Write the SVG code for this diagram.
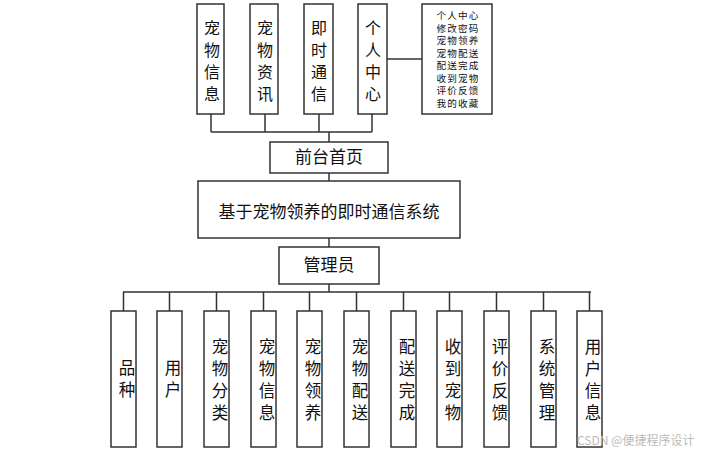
<svg xmlns="http://www.w3.org/2000/svg" width="716" height="454" viewBox="0 0 716 454">
<style>
.b{fill:#fff;stroke:#333;stroke-width:1.5}
.l{fill:none;stroke:#333;stroke-width:1.5}
.t{font-family:"Noto Sans CJK SC",sans-serif;font-size:17px;fill:#111;text-anchor:middle}
.u{font-size:16px}
.c{font-size:16.5px}
.s{font-family:"Noto Sans CJK SC",sans-serif;font-size:9.6px;letter-spacing:1.2px;fill:#111;text-anchor:middle}
.w{font-family:"Noto Sans CJK SC",sans-serif;font-size:12px;fill:#bbb}
</style>
<rect width="716" height="454" fill="#fff"/>
<g id="connectors">
<path class="l" d="M211 114V132M265 114V132M319 114V132M372 114V132M211 132H372M329 132V142M387 59H422M329 173V181M329 238V247M329 284V292M123 292H591"/>
<path class="l" d="M123.5 292V311M169.5 292V311M216.5 292V311M263.5 292V311M309.5 292V311M356.5 292V311M403.5 292V311M449.5 292V311M496.5 292V311M543.5 292V311M589.5 292V311"/>
</g>
<g id="n1"><rect class="b" x="197" y="4" width="27" height="110"/><text class="t u"><tspan x="212" y="33.5">宠</tspan><tspan x="212" y="55.5">物</tspan><tspan x="212" y="77.5">信</tspan><tspan x="212" y="99.5">息</tspan></text></g>
<g id="n2"><rect class="b" x="250" y="4" width="28" height="110"/><text class="t u"><tspan x="265" y="33.5">宠</tspan><tspan x="265" y="55.5">物</tspan><tspan x="265" y="77.5">资</tspan><tspan x="265" y="99.5">讯</tspan></text></g>
<g id="n3"><rect class="b" x="304" y="4" width="29" height="110"/><text class="t u"><tspan x="319" y="33.5">即</tspan><tspan x="319" y="55.5">时</tspan><tspan x="319" y="77.5">通</tspan><tspan x="319" y="99.5">信</tspan></text></g>
<g id="n4"><rect class="b" x="358" y="4" width="29" height="110"/><text class="t u"><tspan x="373" y="33.5">个</tspan><tspan x="373" y="55.5">人</tspan><tspan x="373" y="77.5">中</tspan><tspan x="373" y="99.5">心</tspan></text></g>
<g id="n5"><rect class="b" x="422" y="4" width="70" height="110"/><text class="s"><tspan x="458" y="19">个人中心</tspan><tspan x="458" y="31.5">修改密码</tspan><tspan x="458" y="44">宠物领养</tspan><tspan x="458" y="56.5">宠物配送</tspan><tspan x="458" y="69">配送完成</tspan><tspan x="458" y="81.5">收到宠物</tspan><tspan x="458" y="94">评价反馈</tspan><tspan x="458" y="106.5">我的收藏</tspan></text></g>
<g id="front"><rect class="b" x="270" y="142" width="118" height="31"/><text class="t" x="329" y="163">前台首页</text></g>
<g id="system"><rect class="b" x="198" y="181" width="262" height="57"/><text class="t" x="329" y="218">基于宠物领养的即时通信系统</text></g>
<g id="admin"><rect class="b" x="279" y="247" width="100" height="37"/><text class="t" x="329" y="271">管理员</text></g>
<g id="m1"><rect class="b" x="111" y="311" width="25" height="136"/><text class="t c"><tspan x="127" y="374">品</tspan><tspan x="127" y="396">种</tspan></text></g>
<g id="m2"><rect class="b" x="157" y="311" width="25" height="136"/><text class="t c"><tspan x="173" y="374">用</tspan><tspan x="173" y="396">户</tspan></text></g>
<g id="m3"><rect class="b" x="204" y="311" width="25" height="136"/><text class="t c"><tspan x="220" y="353">宠</tspan><tspan x="220" y="375">物</tspan><tspan x="220" y="397">分</tspan><tspan x="220" y="419">类</tspan></text></g>
<g id="m4"><rect class="b" x="251" y="311" width="25" height="136"/><text class="t c"><tspan x="267" y="353">宠</tspan><tspan x="267" y="375">物</tspan><tspan x="267" y="397">信</tspan><tspan x="267" y="419">息</tspan></text></g>
<g id="m5"><rect class="b" x="297" y="311" width="25" height="136"/><text class="t c"><tspan x="313" y="353">宠</tspan><tspan x="313" y="375">物</tspan><tspan x="313" y="397">领</tspan><tspan x="313" y="419">养</tspan></text></g>
<g id="m6"><rect class="b" x="344" y="311" width="25" height="136"/><text class="t c"><tspan x="360" y="353">宠</tspan><tspan x="360" y="375">物</tspan><tspan x="360" y="397">配</tspan><tspan x="360" y="419">送</tspan></text></g>
<g id="m7"><rect class="b" x="391" y="311" width="25" height="136"/><text class="t c"><tspan x="407" y="353">配</tspan><tspan x="407" y="375">送</tspan><tspan x="407" y="397">完</tspan><tspan x="407" y="419">成</tspan></text></g>
<g id="m8"><rect class="b" x="437" y="311" width="25" height="136"/><text class="t c"><tspan x="453" y="353">收</tspan><tspan x="453" y="375">到</tspan><tspan x="453" y="397">宠</tspan><tspan x="453" y="419">物</tspan></text></g>
<g id="m9"><rect class="b" x="484" y="311" width="25" height="136"/><text class="t c"><tspan x="500" y="353">评</tspan><tspan x="500" y="375">价</tspan><tspan x="500" y="397">反</tspan><tspan x="500" y="419">馈</tspan></text></g>
<g id="m10"><rect class="b" x="531" y="311" width="25" height="136"/><text class="t c"><tspan x="547" y="353">系</tspan><tspan x="547" y="375">统</tspan><tspan x="547" y="397">管</tspan><tspan x="547" y="419">理</tspan></text></g>
<g id="m11"><rect class="b" x="577" y="311" width="25" height="136"/><text class="t c"><tspan x="593" y="353">用</tspan><tspan x="593" y="375">户</tspan><tspan x="593" y="397">信</tspan><tspan x="593" y="419">息</tspan></text></g>
<text class="w" x="577" y="445">CSDN @便捷程序设计</text>
</svg>
